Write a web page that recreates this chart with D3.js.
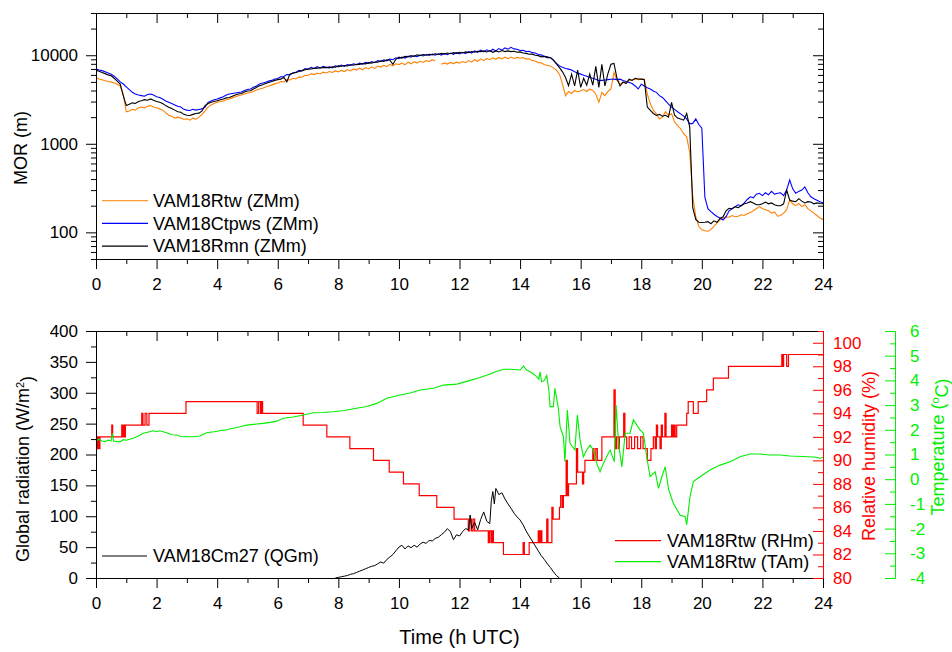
<!DOCTYPE html>
<html><head><meta charset="utf-8">
<script src="https://cdn.jsdelivr.net/npm/d3@7"></script>
<style>body{margin:0;background:#fff}svg{display:block}text{font-family:"Liberation Sans",Arial,sans-serif}</style>
</head><body><svg id="c" width="952" height="652"></svg>
<script>
// ---------- DATA ----------
const hourTicks = [0,2,4,6,8,10,12,14,16,18,20,22,24];
const hourMinor = [1,3,5,7,9,11,13,15,17,19,21,23];
const morTicks = [100,1000,10000];
const morMinor = [50,60,70,80,90,200,300,400,500,600,700,800,900,2000,3000,4000,5000,6000,7000,8000,9000,20000,30000];
const radTicks = [0,50,100,150,200,250,300,350,400];
const radMinor = [25,75,125,175,225,275,325,375];
const rhTicks = [80,82,84,86,88,90,92,94,96,98,100];
const rhMinor = [81,83,85,87,89,91,93,95,97,99,101];
const taTicks = [-4,-3,-2,-1,0,1,2,3,4,5,6];
const taMinor = [-3.5,-2.5,-1.5,-0.5,0.5,1.5,2.5,3.5,4.5,5.5];

// MOR sampled every 0.1 h from 0 to 24 h
const morRtw = [5600,5400,5300,5150,5050,5000,4850,4700,4500,3600,
2300,2350,2450,2400,2550,2600,2550,2650,2700,2600,
2550,2480,2400,2250,2100,2050,1950,2000,1950,1880,
1920,1850,1950,1900,2000,2150,2350,2600,2750,2850,
2940,3000,3050,3150,3200,3300,3400,3480,3550,3650,
3750,3800,3900,4050,4150,4250,4380,4500,4600,4750,
4850,5050,5000,5300,5250,5500,5400,5700,5650,5950,
5900,6200,6050,6300,6150,6450,6300,6550,6400,6650,
6500,6750,6550,6900,6650,7000,6800,7150,6850,7250,
7000,7400,7100,7550,7350,7700,7450,7900,7600,8000,
7850,8150,7800,8350,8000,8450,8150,8600,8300,8700,
8500,8900,8600,null,7900,8200,7950,8300,8050,8350,
8150,8500,8250,8700,8400,8900,8550,9100,8700,9200,
8900,9350,9000,9450,9100,9500,9150,9550,9200,9450,
9250,9400,9050,9100,8700,8600,8260,8200,7800,7700,
7580,7200,6800,6120,4730,3500,3900,3700,4000,3850,
3980,4100,3900,4160,4000,3650,2940,3810,3500,3900,
4160,6400,5200,4730,4900,5000,5150,5300,5400,5300,
5380,5380,3650,2830,2400,2180,1910,2000,2300,2100,
2180,1760,1600,1480,1300,1200,800,260,150,117,
107,104,103,108,117,128,138,145,150,148,
155,150,152,158,155,162,168,175,185,195,
185,180,175,165,170,152,155,165,180,232,
210,200,212,195,205,185,175,165,155,145,140];
const morCtpws = [6970,6800,6700,6500,6300,6100,5800,5400,5000,4730,
4400,4100,3810,3650,3550,3500,3450,3600,3650,3550,
3400,3340,3200,3050,2950,2850,2750,2650,2600,2450,
2400,2380,2450,2400,2440,2480,2600,2940,3050,3150,
3210,3300,3400,3550,3650,3700,3750,3800,3850,4000,
4100,4160,4350,4500,4730,4850,4950,5100,5200,5400,
5450,5700,5750,6050,6000,6350,6400,6750,6650,7050,
6950,7300,7100,7450,7200,7500,7250,7400,7200,7600,
7400,7750,7500,7850,7700,8000,7800,8150,7950,8300,
8100,8500,8250,8700,8500,8850,8650,9050,8900,9350,
9150,9550,9300,9750,9500,9900,9650,10050,9800,10200,
9950,10300,10000,10400,10050,10500,10150,10600,10250,10700,
10350,10800,10450,11000,10600,11200,10800,11400,10900,11500,
11050,11700,11200,11900,11400,12100,11700,12300,11800,11700,
11300,11400,11000,11100,10700,10600,10200,10100,9700,9600,
9400,8800,8100,7580,7300,7100,6970,6800,6500,6300,
6120,5950,5800,5610,5500,5350,5150,5200,5250,5300,
5350,5375,5300,5375,5200,5050,4935,4800,4500,4160,
4700,4500,4300,4160,3950,3810,3500,3340,3070,2800,
2590,2450,2300,2180,2050,1910,1680,1700,1910,1650,
1500,250,185,171,160,151,145,138,150,175,
185,195,205,200,215,235,252,245,270,276,
260,280,265,290,270,276,280,260,300,389,
310,276,290,300,326,280,252,240,230,222,215];
const morRmn = [6790,6600,6400,6200,6000,5860,5500,5100,4730,3500,
2700,2800,2900,2850,3000,3070,3150,3100,3210,3100,
3000,2940,2850,2700,2590,2500,2400,2300,2275,2150,
2100,2090,2150,2200,2220,2350,2700,2850,2950,3000,
3070,3150,3200,3300,3340,3450,3550,3650,3700,3850,
3950,3980,4150,4350,4530,4650,4800,4935,5050,5200,
5300,5375,5650,5000,6120,6250,6400,6540,6700,6850,
6970,7000,7100,7150,7200,7240,7300,7200,7400,7350,
7580,7500,7650,7550,7800,7700,7900,7850,8050,8000,
8250,8150,8400,8350,8630,8500,8900,8800,7900,9000,
9500,9300,9700,9600,9900,9700,10100,9900,10200,10000,
10260,10100,10400,10200,10500,10300,10600,10400,10700,10500,
10800,10600,10900,10700,11000,10800,11100,10980,11200,10900,
11300,10800,11200,10900,11300,11000,11200,10980,11100,10800,
10900,10600,10500,10260,10300,10000,9900,9600,9700,9400,
9400,8800,8000,7250,6500,5610,4530,6120,4500,6800,
4330,5500,4600,6120,4600,7500,4330,7900,4500,6200,
7900,8100,5500,4500,5000,4800,5375,5200,5500,5400,
5375,5300,2600,2380,2200,2090,2150,2050,2100,2000,
2940,2100,1950,1910,1850,2200,1545,190,140,130,
129,130,132,125,135,130,144,150,175,187,
185,195,190,200,210,215,222,215,205,205,
210,220,210,215,205,200,200,210,300,232,
225,222,240,225,215,222,220,210,215,212,210];

// Global radiation (W/m2)
const radTime = [7.9,8.0,8.1,8.2,8.3,8.4,8.5,8.6,8.7,8.8,8.9,9.0,9.1,9.2,9.3,9.4,9.5,9.6,9.7,9.8,9.9,
10.0,10.1,10.2,10.3,10.4,10.5,10.6,10.7,10.8,10.9,11.0,11.1,11.2,11.3,11.4,11.5,11.6,11.7,11.8,11.9,
12.0,12.1,12.2,12.3,12.35,12.4,12.5,12.6,12.7,12.8,12.9,13.0,13.05,13.1,13.15,13.2,13.3,13.4,13.5,13.6,13.7,13.8,13.9,
14.0,14.1,14.2,14.3,14.4,14.5,14.6,14.7,14.8,14.9,15.0,15.1,15.2,15.3];
const radValue = [0,1,2,3,4,6,7,9,11,13,15,17,19,20,23,26,24,30,34,38,44,
50,53,47,52,49,53,50,55,58,56,61,60,64,66,70,74,80,75,62,70,
68,75,80,78,102,80,90,78,95,107,92,88,125,140,120,145,135,138,128,120,113,105,99,
94,86,76,68,60,52,44,36,30,23,17,10,4,0];

// Relative humidity (%): [time, value] steps
const rhSteps = [[0,92],[0.04,91],[0.07,92],[0.10,91],[0.13,92],[0.52,93],[0.55,92],[0.85,93],[0.88,92],[0.92,93],[0.95,92],[0.97,93],
[1.51,94],[1.55,93],[1.62,94],[1.68,93],[1.75,94],[2.97,95],[5.32,94],[5.37,95],[5.43,94],[5.47,95],[5.50,94],[6.84,93],[7.62,92],[8.38,91],[9.16,90],[9.68,89],[10.15,88],[10.67,87],[11.25,86],[11.82,85],
[12.29,84],[12.34,85],[12.40,84],[12.45,85],[12.50,84],[12.95,83],[12.99,84],[13.04,83],[13.08,84],[13.12,83],[13.45,82],[14.10,83],[14.14,82],[14.30,83],[14.60,84],[14.64,83],[14.68,84],[14.72,83],
[14.88,85],[14.92,83],[15.05,86],[15.09,85],[15.30,86],[15.34,87],[15.39,86],[15.43,87],[15.52,90],[15.56,87],[15.60,88],[15.86,91],[15.90,89],[16.06,88],[16.10,89],[16.14,90],
[16.40,91],[16.44,90],[16.50,91],[16.55,90],[16.70,92],[17.10,96],[17.14,91],[17.18,92],[17.24,91],[17.28,92],[17.42,94],[17.46,92],
[17.52,91],[17.60,92],[17.68,91],[17.78,92],[17.88,91],[17.98,92],[18.06,91],[18.20,90],
[18.32,91],[18.40,92],[18.46,91],[18.50,93],[18.54,92],[18.62,91],[18.66,93],[18.70,92],[18.78,94],[18.82,92],[19.00,93],[19.04,92],[19.08,93],[19.12,92],[19.17,93],
[19.50,94],[19.55,95],[19.72,94],[19.88,95],[20.16,96],[20.38,97],[20.88,98],[22.64,99],[22.67,98],[22.70,99],[22.80,98],[22.86,99],[24.0,99]];

// Temperature (°C)
const taTime = [0,0.1,0.2,0.3,0.4,0.5,0.54,0.58,0.7,0.8,0.9,1.0,1.1,1.23,1.4,1.56,1.7,1.89,2.0,2.1,2.33,2.5,2.66,2.8,2.99,
3.2,3.43,3.65,3.9,4.09,4.3,4.53,4.75,4.97,5.2,5.52,5.75,5.96,6.18,6.51,6.85,7.17,7.5,7.83,8.2,8.5,8.94,9.27,9.6,
10.04,10.4,10.7,11.14,11.47,11.91,12.35,12.68,13.01,13.2,13.45,13.7,14.0,14.11,14.22,14.4,14.55,14.62,14.66,14.71,14.8,
14.88,14.95,14.99,15.1,15.15,15.26,15.32,15.43,15.48,15.56,15.65,15.81,15.89,15.98,16.09,16.2,16.31,16.42,16.53,16.64,
16.75,16.97,17.11,17.17,17.25,17.36,17.47,17.63,17.74,17.85,17.96,18.07,18.18,18.29,18.46,18.57,18.68,18.79,18.9,
19.06,19.28,19.45,19.5,19.61,19.72,19.94,20.27,20.6,20.93,21.26,21.59,21.92,22.25,22.58,22.91,23.35,23.79,23.9,24.0];
const taValue = [1.55,1.62,1.55,1.52,1.58,1.55,1.86,1.55,1.52,1.52,1.6,1.58,1.62,1.66,1.75,1.86,1.9,1.96,1.92,1.96,1.88,1.8,1.79,1.73,1.72,
1.72,1.75,1.88,1.92,1.96,2.0,2.06,2.12,2.19,2.22,2.26,2.3,2.35,2.47,2.52,2.6,2.69,2.7,2.73,2.78,2.85,2.94,3.07,3.28,
3.41,3.5,3.61,3.68,3.81,3.85,4.0,4.12,4.26,4.35,4.45,4.45,4.42,4.58,4.42,4.3,4.15,4.05,4.35,3.95,4.0,
4.2,3.6,2.94,2.94,3.68,2.9,2.13,1.72,0.71,2.8,1.45,1.18,2.6,1.59,0.91,1.18,1.38,1.18,0.64,0.3,
0.64,1.18,0.71,3.0,1.45,0.5,1.86,1.86,2.4,2.2,2.0,1.86,0.91,0.1,0.3,-0.37,0.1,0.5,-0.4,
-0.98,-1.45,-1.52,-1.85,-0.71,-0.1,0.1,0.37,0.57,0.71,0.91,1.02,1.02,0.98,0.98,0.94,0.92,0.89,0.85,0.88];

// ---------- DRAW ----------
const svg = d3.select("#c");
const X0 = 96, X1 = 823;
const T1 = 13, B1 = 259, T2 = 331, B2 = 578;
const FONT = "'Liberation Sans', Arial, sans-serif";
const GREEN = "#00ee00";
const x = d3.scaleLinear([0, 24], [X0, X1]);
const yMor = d3.scaleLog([50, 30000], [B1, T1]);
const yRad = d3.scaleLinear([0, 400], [B2, T2]);
const yRh = d3.scaleLinear([80, 101], [B2, T2]);
const yTa = d3.scaleLinear([-4, 6], [B2, T2]);
const hours = d3.range(morRtw.length).map(i => i / 10);

const defs = svg.append("defs");
defs.append("clipPath").attr("id", "clipTop").append("rect").attr("x", X0).attr("y", T1).attr("width", X1 - X0).attr("height", B1 - T1);
defs.append("clipPath").attr("id", "clipBot").append("rect").attr("x", X0).attr("y", T2).attr("width", X1 - X0).attr("height", B2 - T2);

function drawAxis(axis, tx, ty, color, fs) {
  const g = svg.append("g").attr("transform", `translate(${tx},${ty})`).call(axis);
  g.selectAll("path.domain").attr("stroke", color || "#000").attr("stroke-width", 1);
  g.selectAll(".tick line").attr("stroke", color || "#000").attr("stroke-width", 1);
  g.selectAll("text").attr("fill", color || "#000").style("font-family", FONT).style("font-size", (fs || 17) + "px");
  return g;
}
const fmt = d => String(d);

// ---- top panel ----
const morLine = arr => d3.line().defined(d => d != null).x((d, i) => x(hours[i])).y(d => yMor(d))(arr);
const gTop = svg.append("g").attr("clip-path", "url(#clipTop)");
[[morRtw, "#ff8000"], [morCtpws, "#0000ff"], [morRmn, "#000000"]].forEach(([arr, c]) => {
  gTop.append("path").attr("d", morLine(arr)).attr("fill", "none").attr("stroke", c).attr("stroke-width", 1.1);
});

drawAxis(d3.axisBottom(x).tickValues(hourTicks).tickSize(10).tickSizeOuter(0).tickPadding(9).tickFormat(fmt), 0, B1);
drawAxis(d3.axisBottom(x).tickValues(hourMinor).tickSize(5).tickSizeOuter(0).tickFormat(""), 0, B1);
drawAxis(d3.axisTop(x).tickValues(hourTicks).tickSize(-10).tickSizeOuter(0).tickFormat(""), 0, T1);
drawAxis(d3.axisTop(x).tickValues(hourMinor).tickSize(-5).tickSizeOuter(0).tickFormat(""), 0, T1);
drawAxis(d3.axisLeft(yMor).tickValues(morTicks).tickSize(10).tickSizeOuter(0).tickPadding(8).tickFormat(fmt), X0, 0);
drawAxis(d3.axisLeft(yMor).tickValues(morMinor).tickSize(5).tickSizeOuter(0).tickFormat(""), X0, 0);
drawAxis(d3.axisRight(yMor).tickValues(morTicks).tickSize(-10).tickSizeOuter(0).tickFormat(""), X1, 0);
drawAxis(d3.axisRight(yMor).tickValues(morMinor).tickSize(-5).tickSizeOuter(0).tickFormat(""), X1, 0);

svg.append("text").attr("transform", "translate(27,148) rotate(-90)").attr("text-anchor", "middle")
  .style("font-size", "18px").text("MOR (m)");

const topLegend = [["VAM18Rtw (ZMm)", "#ff9933"], ["VAM18Ctpws (ZMm)", "#0000ff"], ["VAM18Rmn (ZMm)", "#000000"]];
topLegend.forEach(([lab, c], i) => {
  const yy = 200.7 + i * 22.7;
  svg.append("line").attr("x1", 102).attr("x2", 148).attr("y1", yy).attr("y2", yy).attr("stroke", c).attr("stroke-width", 1.2);
  svg.append("text").attr("x", 153).attr("y", yy).attr("dy", "0.35em").style("font-size", "18px").text(lab);
});

// ---- bottom panel ----
const gBot = svg.append("g").attr("clip-path", "url(#clipBot)");
const rhLine = d3.line().curve(d3.curveStepAfter).x(d => x(d[0])).y(d => yRh(d[1]));
const taLine = d3.line().x((d, i) => x(taTime[i])).y(d => yTa(d));
const radLine = d3.line().x((d, i) => x(radTime[i])).y(d => yRad(d));
gBot.append("path").attr("d", rhLine(rhSteps)).attr("fill", "none").attr("stroke", "#ff0000").attr("stroke-width", 1.2);
gBot.append("path").attr("d", taLine(taValue)).attr("fill", "none").attr("stroke", GREEN).attr("stroke-width", 1.1);
gBot.append("path").attr("d", radLine(radValue)).attr("fill", "none").attr("stroke", "#000").attr("stroke-width", 1);

drawAxis(d3.axisBottom(x).tickValues(hourTicks).tickSize(10).tickSizeOuter(0).tickPadding(9).tickFormat(fmt), 0, B2);
drawAxis(d3.axisBottom(x).tickValues(hourMinor).tickSize(5).tickSizeOuter(0).tickFormat(""), 0, B2);
drawAxis(d3.axisTop(x).tickValues(hourTicks).tickSize(-10).tickSizeOuter(0).tickFormat(""), 0, T2);
drawAxis(d3.axisTop(x).tickValues(hourMinor).tickSize(-5).tickSizeOuter(0).tickFormat(""), 0, T2);
drawAxis(d3.axisLeft(yRad).tickValues(radTicks).tickSize(10).tickSizeOuter(0).tickPadding(8).tickFormat(fmt), X0, 0);
drawAxis(d3.axisLeft(yRad).tickValues(radMinor).tickSize(5).tickSizeOuter(0).tickFormat(""), X0, 0);
drawAxis(d3.axisRight(yRh).tickValues(rhTicks).tickSize(-10).tickSizeOuter(0).tickPadding(10).tickFormat(fmt), X1, 0, "#ff0000");
drawAxis(d3.axisRight(yRh).tickValues(rhMinor).tickSize(-5).tickSizeOuter(0).tickFormat(""), X1, 0, "#ff0000");
const GX = 895;
drawAxis(d3.axisRight(yTa).tickValues(taTicks).tickSize(-10).tickSizeOuter(0).tickPadding(15).tickFormat(fmt), GX, 0, GREEN);
drawAxis(d3.axisRight(yTa).tickValues(taMinor).tickSize(-5).tickSizeOuter(0).tickFormat(""), GX, 0, GREEN);

const t1 = svg.append("text").attr("transform", "translate(29,469) rotate(-90)").attr("text-anchor", "middle").style("font-size", "18px");
t1.append("tspan").text("Global radiation (W/m");
t1.append("tspan").attr("dy", "-0.5em").style("font-size", "11px").text("2");
t1.append("tspan").attr("dy", "0.5em").text(")");

svg.append("text").attr("transform", "translate(875,456) rotate(-90)").attr("text-anchor", "middle")
  .attr("fill", "#ff0000").style("font-size", "18px").text("Relative humidity (%)");
const t2 = svg.append("text").attr("transform", "translate(944,447) rotate(-90)").attr("text-anchor", "middle")
  .attr("fill", GREEN).style("font-size", "18px");
t2.append("tspan").text("Temperature (");
t2.append("tspan").attr("dy", "-0.5em").style("font-size", "11px").text("o");
t2.append("tspan").attr("dy", "0.5em").text("C)");

svg.append("text").attr("x", (X0 + X1) / 2).attr("y", 644).attr("text-anchor", "middle")
  .style("font-size", "20px").text("Time (h UTC)");

// legends
svg.append("line").attr("x1", 102).attr("x2", 147).attr("y1", 556).attr("y2", 556).attr("stroke", "#000").attr("stroke-width", 1);
svg.append("text").attr("x", 153).attr("y", 556).attr("dy", "0.35em").style("font-size", "18px").text("VAM18Cm27 (QGm)");
[["VAM18Rtw (RHm)", "#ff0000"], ["VAM18Rtw (TAm)", GREEN]].forEach(([lab, c], i) => {
  const yy = 540.7 + i * 21;
  svg.append("line").attr("x1", 615).attr("x2", 661).attr("y1", yy).attr("y2", yy).attr("stroke", c).attr("stroke-width", 1.2);
  svg.append("text").attr("x", 667).attr("y", yy).attr("dy", "0.35em").style("font-size", "18px").text(lab);
});
svg.selectAll("text").style("font-family", FONT);
</script>
</body></html>
